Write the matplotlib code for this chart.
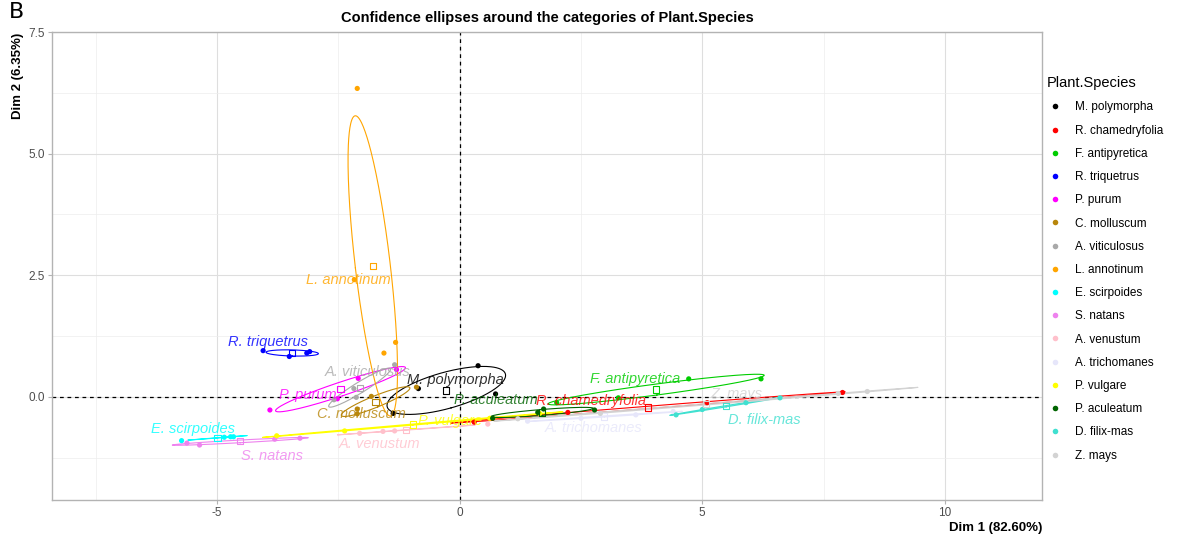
import numpy as np
import matplotlib
matplotlib.use("Agg")
import matplotlib.pyplot as plt
from matplotlib.lines import Line2D

plt.rcParams['font.family'] = ['Liberation Sans', 'DejaVu Sans']

# ---- data -------------------------------------------------------------
species = [
    "M. polymorpha", "R. chamedryfolia", "F. antipyretica", "R. triquetrus",
    "P. purum", "C. molluscum", "A. viticulosus", "L. annotinum",
    "E. scirpoides", "S. natans", "A. venustum", "A. trichomanes",
    "P. vulgare", "P. aculeatum", "D. filix-mas", "Z. mays",
]
colors = [
    "#000000", "#FF0000", "#00CD00", "#0000FF",
    "#FF00FF", "#B8860B", "#A9A9A9", "#FFA500",
    "#00FFFF", "#EE82EE", "#FFC0CB", "#E6E6FA",
    "#FFFF00", "#006400", "#40E0D0", "#D3D3D3",
]
# individual coordinates on Dim 1 / Dim 2, one list per species
dim1 = [
    [0.38, 0.74, -1.37, -0.85],
    [0.30, 2.23, 5.10, 7.89],
    [2.00, 3.27, 4.72, 6.21],
    [-4.05, -3.51, -3.15, -3.09],
    [-3.91, -2.09, -2.52, -1.30],
    [-2.11, -2.11, -1.82, -0.89],
    [-1.34, -2.18, -2.13, -2.59],
    [-2.11, -2.17, -1.32, -1.56],
    [-5.73, -4.85, -4.72, -4.66],
    [-5.62, -5.36, -3.81, -3.29],
    [-2.06, -1.58, -1.34, 0.58],
    [1.40, 2.50, 3.63, 4.40],
    [-3.77, -2.37, 0.62, 1.65],
    [0.68, 1.61, 1.73, 2.78],
    [4.46, 5.00, 5.90, 6.60],
    [1.20, 2.90, 7.80, 8.40],
]
dim2 = [
    [0.64, 0.06, -0.34, 0.17],
    [-0.52, -0.32, -0.12, 0.09],
    [-0.12, -0.02, 0.37, 0.37],
    [0.95, 0.83, 0.90, 0.93],
    [-0.27, 0.38, -0.04, 0.56],
    [-0.25, -0.35, 0.01, 0.20],
    [0.66, 0.17, -0.01, -0.06],
    [6.34, 2.41, 1.12, 0.90],
    [-0.90, -0.83, -0.82, -0.82],
    [-0.95, -0.99, -0.87, -0.85],
    [-0.75, -0.71, -0.70, -0.56],
    [-0.50, -0.44, -0.37, -0.30],
    [-0.80, -0.70, -0.44, -0.34],
    [-0.44, -0.32, -0.25, -0.27],
    [-0.37, -0.26, -0.12, -0.02],
    [-0.45, -0.34, 0.07, 0.11],
]
x_ticks = [-5, 0, 5, 10]
y_ticks = [0.0, 2.5, 5.0, 7.5]
x_title = "Dim 1 (82.60%)"
y_title = "Dim 2 (6.35%)"

# label placement relative to each category barycentre (data units)
label_shift = [
    (0.18, 0.22), (-1.18, 0.14), (-0.43, 0.22), (-0.50, 0.23),
    (-0.68, -0.12), (-0.29, -0.25), (0.17, 0.32), (-0.51, -0.30),
    (-0.50, 0.18), (0.65, -0.30), (-0.55, -0.29), (-0.22, -0.24),
    (0.77, 0.07), (-0.96, 0.26), (0.79, -0.28), (0.63, 0.21),
]

LEVEL = 0.95


def confidence_ellipse(x, y, level=LEVEL, n=240):
    """Confidence ellipse of the barycentre (covariance / n, chi2 with 2 df)."""
    x = np.asarray(x, float)
    y = np.asarray(y, float)
    centre = np.array([x.mean(), y.mean()])
    cov = np.cov(x, y) / len(x)
    vals, vecs = np.linalg.eigh(cov)
    vals = np.clip(vals, 0, None)
    radius = np.sqrt(-2.0 * np.log(1.0 - level))
    t = np.linspace(0, 2 * np.pi, n)
    circle = np.vstack([np.cos(t), np.sin(t)])
    pts = vecs @ (np.sqrt(vals)[:, None] * circle) * radius
    return pts[0] + centre[0], pts[1] + centre[1], centre


# ---- figure -----------------------------------------------------------
W, H = 1177, 542
fig = plt.figure(figsize=(W / 100, H / 100), dpi=100)
ax = fig.add_axes([52 / W, 1 - 500 / H, (1042 - 52) / W, (500 - 32) / H])

ax.set_xlim(-8.4, 12.0)
ax.set_ylim(-2.12, 7.5)
ax.set_xticks(x_ticks)
ax.set_xticklabels([f"{v:g}" for v in x_ticks])
ax.set_yticks(y_ticks)
ax.set_yticklabels([f"{v:.1f}" for v in y_ticks])
ax.set_xticks([-7.5, -2.5, 2.5, 7.5], minor=True)
ax.set_yticks([-1.25, 1.25, 3.75, 6.25], minor=True)
ax.grid(which="major", color="#DEDEDE", lw=0.8, zorder=0)
ax.grid(which="minor", color="#EDEDED", lw=0.5, zorder=0)
ax.set_axisbelow(True)
ax.tick_params(which="major", length=3, color="#B3B3B3", labelsize=8.5,
               labelcolor="#4D4D4D", pad=2)
ax.tick_params(which="minor", length=0)
for sp in ax.spines.values():
    sp.set_color("#B3B3B3")
    sp.set_linewidth(1.0)

ax.axhline(0, color="black", lw=0.9, ls=(0, (3, 3)), zorder=1)
ax.axvline(0, color="black", lw=0.9, ls=(0, (3, 3)), zorder=1)

centres = []
for xs, ys, col in zip(dim1, dim2, colors):
    ex, ey, c = confidence_ellipse(xs, ys)
    centres.append(c)
    ax.plot(ex, ey, color=col, lw=0.8, zorder=2)
    ax.scatter(xs, ys, s=14, color=col, edgecolors="none", zorder=3)
    ax.scatter([c[0]], [c[1]], s=20, marker="s", facecolors="none",
               edgecolors=col, linewidths=0.8, zorder=3)

for name, col, c, (dx, dy) in zip(species, colors, centres, label_shift):
    ax.text(c[0] + dx, c[1] + dy, name, color=col, alpha=0.8,
            fontsize=10.5, fontstyle="italic", ha="center", va="center",
            zorder=4)

# titles and annotations
fig.text(547 / W, 1 - 18 / H, "Confidence ellipses around the categories of Plant.Species",
         ha="center", va="center", fontsize=10.5, fontweight="bold")
fig.text(9 / W, 1 - 12 / H, "B", ha="left", va="center", fontsize=16,
         family=["DejaVu Sans"])
fig.text(18 / W, 1 - 33 / H, y_title, rotation=90, ha="center", va="top",
         fontsize=9.5, fontweight="bold")
fig.text(1042 / W, 1 - 528 / H, x_title, ha="right", va="center",
         fontsize=9.5, fontweight="bold")

# legend
handles = [Line2D([], [], ls="none", marker="o", markersize=4,
                  markerfacecolor=col, markeredgecolor="none")
           for col in colors]
leg = fig.legend(handles, species, loc="upper left",
                 bbox_to_anchor=(1038 / W, 1 - 68 / H), frameon=False,
                 title="Plant.Species", title_fontsize=10.5, fontsize=8.5,
                 alignment="left", labelspacing=0.95, handlelength=1.4,
                 handletextpad=1.0, borderpad=0.2)

fig.savefig("out.png", dpi=100)
